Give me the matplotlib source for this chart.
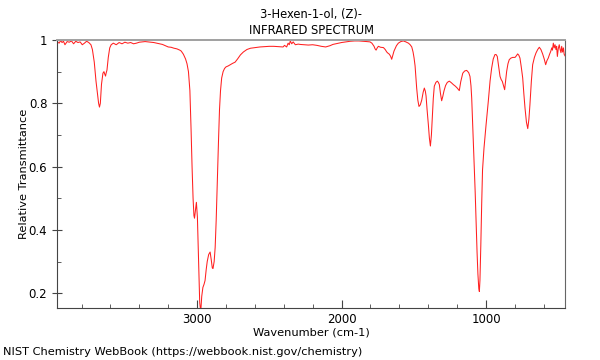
import matplotlib
matplotlib.use('Agg')
import matplotlib.pyplot as plt
from matplotlib.ticker import MultipleLocator, FormatStrFormatter

title = '3-Hexen-1-ol, (Z)-\nINFRARED SPECTRUM'
xlabel = 'Wavenumber (cm-1)'
ylabel = 'Relative Transmittance'
credit = 'NIST Chemistry WebBook (https://webbook.nist.gov/chemistry)'

# (wavenumber cm-1, relative transmittance), by region
oh_region = [
    (3970, 0.995), (3955, 0.990), (3945, 0.998), (3935, 0.992), (3925, 0.996),
    (3915, 0.985), (3900, 0.995), (3885, 0.993), (3870, 0.997), (3855, 0.988),
    (3840, 0.996), (3825, 0.992), (3810, 0.994), (3795, 0.985), (3780, 0.990),
    (3765, 0.996), (3750, 0.992), (3735, 0.985), (3725, 0.970), (3712, 0.930),
    (3700, 0.870), (3690, 0.830), (3682, 0.800), (3676, 0.788), (3670, 0.800),
    (3662, 0.860), (3652, 0.895), (3645, 0.900), (3640, 0.893), (3634, 0.886),
    (3630, 0.895), (3624, 0.905), (3615, 0.945), (3605, 0.975), (3595, 0.985),
]
ch_region = [
    (3580, 0.990), (3560, 0.985), (3540, 0.992), (3520, 0.988), (3500, 0.993),
    (3480, 0.990), (3460, 0.992), (3440, 0.988), (3420, 0.990), (3400, 0.993),
    (3380, 0.994), (3360, 0.995), (3340, 0.994), (3320, 0.993), (3300, 0.992),
    (3280, 0.990), (3260, 0.988), (3240, 0.986), (3220, 0.982), (3200, 0.978),
    (3180, 0.977), (3160, 0.974), (3140, 0.972), (3120, 0.968), (3110, 0.965),
    (3095, 0.955), (3080, 0.940), (3070, 0.925), (3060, 0.900), (3050, 0.840),
    (3042, 0.720), (3035, 0.600), (3028, 0.500), (3022, 0.445), (3018, 0.437),
    (3012, 0.460), (3005, 0.487), (2998, 0.440), (2990, 0.300), (2982, 0.170),
    (2975, 0.140), (2968, 0.190), (2960, 0.218), (2952, 0.228), (2945, 0.240),
    (2937, 0.275), (2930, 0.300), (2920, 0.322), (2910, 0.330), (2902, 0.305),
    (2895, 0.280), (2890, 0.278), (2882, 0.300), (2875, 0.345), (2868, 0.430),
    (2860, 0.557), (2852, 0.680), (2845, 0.780), (2838, 0.840), (2830, 0.880),
    (2820, 0.900), (2810, 0.910), (2800, 0.915), (2785, 0.918), (2770, 0.922),
    (2755, 0.926), (2737, 0.930), (2720, 0.940), (2700, 0.953),
]
mid_region = [
    (2680, 0.962), (2655, 0.970), (2630, 0.974), (2600, 0.976), (2565, 0.978),
    (2530, 0.979), (2500, 0.980), (2470, 0.980), (2440, 0.979), (2420, 0.978),
    (2405, 0.978), (2395, 0.983), (2380, 0.978), (2370, 0.990), (2362, 0.985),
    (2355, 0.997), (2345, 0.988), (2335, 0.994), (2320, 0.985), (2300, 0.987),
    (2287, 0.986), (2260, 0.985), (2230, 0.984), (2200, 0.985), (2170, 0.983),
    (2140, 0.980), (2110, 0.978), (2080, 0.982), (2060, 0.986), (2040, 0.988),
    (2020, 0.990), (2000, 0.992), (1970, 0.994), (1940, 0.996), (1910, 0.997),
    (1880, 0.997), (1850, 0.996), (1825, 0.995), (1803, 0.994), (1790, 0.990),
    (1775, 0.980), (1768, 0.972), (1761, 0.968), (1752, 0.976), (1745, 0.980),
    (1730, 0.977), (1710, 0.976), (1698, 0.970), (1687, 0.962), (1678, 0.958),
    (1669, 0.955), (1660, 0.948), (1653, 0.939), (1645, 0.952), (1637, 0.965),
    (1620, 0.982), (1607, 0.990), (1590, 0.995), (1572, 0.997), (1555, 0.994),
    (1537, 0.990), (1525, 0.985), (1514, 0.978),
]
fingerprint = [
    (1505, 0.962), (1498, 0.943), (1491, 0.918), (1485, 0.880), (1480, 0.848),
    (1472, 0.810), (1464, 0.790), (1455, 0.795), (1445, 0.810), (1435, 0.835),
    (1427, 0.848), (1420, 0.838), (1415, 0.823), (1408, 0.780), (1399, 0.732),
    (1392, 0.690), (1385, 0.665), (1378, 0.700), (1372, 0.753), (1365, 0.815),
    (1358, 0.854), (1347, 0.866), (1337, 0.870), (1330, 0.866), (1323, 0.859),
    (1315, 0.830), (1307, 0.808), (1299, 0.822), (1291, 0.839), (1280, 0.856),
    (1268, 0.866), (1254, 0.870), (1240, 0.865), (1226, 0.859), (1212, 0.854),
    (1199, 0.848), (1185, 0.840), (1175, 0.868), (1161, 0.895), (1148, 0.902),
    (1134, 0.904), (1120, 0.897), (1111, 0.885), (1104, 0.855), (1099, 0.816),
    (1092, 0.730), (1083, 0.627), (1075, 0.520), (1068, 0.420), (1062, 0.330),
    (1056, 0.260), (1050, 0.215), (1046, 0.205), (1042, 0.240), (1036, 0.350),
    (1030, 0.480), (1024, 0.590), (1014, 0.658), (1000, 0.730), (984, 0.807),
    (972, 0.870), (961, 0.911), (950, 0.940), (938, 0.954), (930, 0.954),
    (922, 0.948), (912, 0.915), (903, 0.885), (895, 0.875), (887, 0.869),
    (878, 0.855), (871, 0.843), (864, 0.872), (857, 0.901), (848, 0.925),
    (839, 0.938), (827, 0.943), (815, 0.945), (799, 0.945), (790, 0.950),
    (781, 0.956), (773, 0.952), (765, 0.943), (756, 0.915), (746, 0.880),
    (738, 0.830), (730, 0.785), (720, 0.740), (711, 0.720), (703, 0.750),
    (696, 0.795), (686, 0.870), (677, 0.922), (665, 0.945), (654, 0.959),
    (642, 0.970), (631, 0.977), (620, 0.970), (608, 0.956), (597, 0.940),
    (587, 0.922), (578, 0.935), (569, 0.943), (560, 0.955), (552, 0.964),
    (545, 0.975), (540, 0.968), (534, 0.990), (528, 0.975), (522, 0.985),
    (516, 0.970), (511, 0.980), (506, 0.948), (500, 0.972), (493, 0.985),
    (487, 0.970), (481, 0.960), (476, 0.980), (470, 0.962), (464, 0.975),
    (459, 0.955), (453, 0.950),
]

wavenumber, transmittance = zip(*(oh_region + ch_region + mid_region + fingerprint))

fig = plt.figure(figsize=(6, 3.6), dpi=100)
ax = fig.add_axes([0.095, 0.1444, 0.8467, 0.7445])

ax.plot(wavenumber, transmittance, color='#ff2020', linewidth=0.75)

ax.set_xlim(3970, 453)
ax.set_ylim(0.153, 1.0)
ax.xaxis.set_major_locator(MultipleLocator(1000))
ax.xaxis.set_minor_locator(MultipleLocator(200))
ax.yaxis.set_major_locator(MultipleLocator(0.2))
ax.yaxis.set_minor_locator(MultipleLocator(0.1))
ax.yaxis.set_major_formatter(FormatStrFormatter('%g'))
ax.tick_params(which='both', direction='in', labelsize=8.5, colors='#444444',
               labelcolor='black')
ax.tick_params(axis='y', which='major', direction='inout', length=7)
ax.tick_params(axis='x', which='major', length=6)
ax.tick_params(which='minor', length=3)

for side in ['left', 'bottom']:
    ax.spines[side].set_color('#444444')
ax.spines['right'].set_color('#666666')
ax.spines['top'].set_color('#a0a0a0')
ax.spines['top'].set_linewidth(1.4)

ax.set_title(title, fontsize=8.3, linespacing=1.35, pad=4)
ax.set_xlabel(xlabel, fontsize=8.2, labelpad=1)
ax.set_ylabel(ylabel, fontsize=8.2, labelpad=0)
fig.text(0.005, 0.013, credit, fontsize=8.2)

fig.savefig('out.png', dpi=100)
